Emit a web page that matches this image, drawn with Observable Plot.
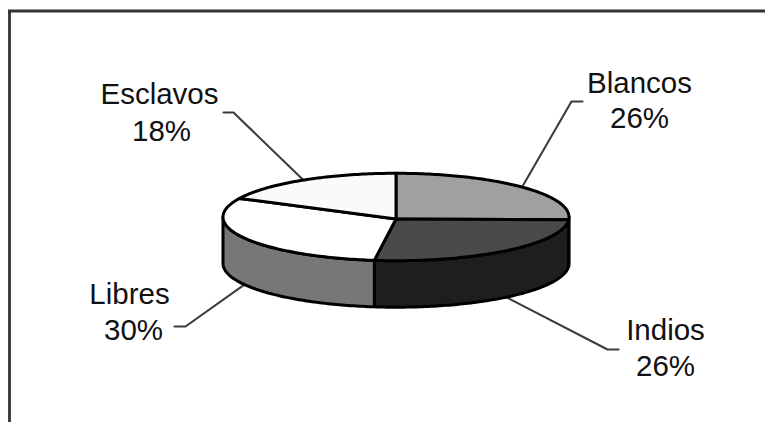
<!DOCTYPE html>
<html lang="es">
<head>
<meta charset="utf-8">
<title>Población por grupo</title>
<script src="https://cdn.jsdelivr.net/npm/d3@7"></script>
<script src="https://cdn.jsdelivr.net/npm/@observablehq/plot@0.6"></script>
<style>
  html, body { margin: 0; padding: 0; background: #fff; }
  svg { display: block; }
</style>
</head>
<body>
<div id="chart"></div>
<script>
// Population groups, clockwise from twelve o'clock
const groups = ["Blancos", "Indios", "Libres", "Esclavos"];
const shares = [26, 26, 30, 18];

// Greys for the top face and the outer wall of each slice
const topFills = ["#a0a0a0", "#4a4a4a", "#ffffff", "#fafafa"];
const wallFills = ["#1e1e1e", "#1e1e1e", "#777777", "#777777"];

// Label anchors and the elbow and tail of each leader line
const nameX = [639, 665, 129, 159];
const shareX = [639, 665, 133, 161];
const nameY = [92, 339, 303, 103];
const shareY = [127, 375, 339, 140];
const elbowX = [571, 607, 185, 233];
const tailX = [582, 618, 174, 223];
const elbowY = [101, 349, 326, 112];

// Tilted disc geometry; the hub sits a little below the ellipse centre
const width = 765, height = 422;
const cx = 395.5, cy = 216.5, hubY = 218.5, rx = 173, ry = 43.7, depth = 46.5;

const rim = (deg, drop = 0) => {
  const a = deg * Math.PI / 180;
  return {x: cx + rx * Math.sin(a), y: cy - ry * Math.cos(a) + drop};
};
const arc = (a0, a1, drop = 0) => {
  const n = Math.max(1, Math.ceil(Math.abs(a1 - a0)));
  return d3.range(n + 1).map(i => rim(a0 + (a1 - a0) * i / n, drop));
};

let cumulative = 0;
const slices = groups.map((name, i) => {
  const start = cumulative * 3.6;
  cumulative += shares[i];
  const end = cumulative * 3.6;
  return {name, share: shares[i], start, end, mid: (start + end) / 2, i};
});

const edge = {stroke: "#000", strokeWidth: 3, strokeLinejoin: "round"};

// Only the part of a slice facing the viewer shows its wall
const wallMarks = slices
  .filter(s => s.end > 90 && s.start < 270)
  .map(s => {
    const a0 = Math.max(s.start, 90), a1 = Math.min(s.end, 270);
    const outline = [...arc(a0, a1), ...arc(a1, a0, depth)];
    return Plot.line(outline, {
      x: "x", y: "y", curve: "linear-closed", fill: wallFills[s.i], ...edge
    });
  });

const topMarks = slices.map(s => {
  const outline = [{x: cx, y: hubY}, ...arc(s.start, s.end)];
  return Plot.line(outline, {
    x: "x", y: "y", curve: "linear-closed", fill: topFills[s.i], ...edge
  });
});

// Leaders start on the visible rim at each slice's middle angle
const leaderMarks = slices.map(s => {
  const onWall = s.mid > 90 && s.mid < 270;
  const path = [
    rim(s.mid, onWall ? depth : 0),
    {x: elbowX[s.i], y: elbowY[s.i]},
    {x: tailX[s.i], y: elbowY[s.i]}
  ];
  return Plot.line(path, {x: "x", y: "y", stroke: "#3c3c3c", strokeWidth: 2.1});
});

const textFont = {
  fontFamily: "'Liberation Sans', Arial, sans-serif",
  fontSize: 29.5,
  fill: "#111",
  lineAnchor: "bottom",
  textAnchor: "middle"
};

const chart = Plot.plot({
  width, height,
  margin: 0,
  style: {background: "#fff"},
  x: {domain: [0, width], range: [0, width], axis: null},
  y: {domain: [0, height], range: [0, height], axis: null},
  marks: [
    Plot.ruleX([9], {y1: 11, y2: height, stroke: "#333", strokeWidth: 2.8}),
    Plot.ruleY([10.5], {x1: 8, x2: width, stroke: "#333", strokeWidth: 2.8}),
    ...leaderMarks,
    ...wallMarks,
    ...topMarks,
    Plot.text(slices, {
      x: s => nameX[s.i], y: s => nameY[s.i], text: "name", ...textFont
    }),
    Plot.text(slices, {
      x: s => shareX[s.i], y: s => shareY[s.i], text: s => `${s.share}%`, ...textFont
    })
  ]
});

document.getElementById("chart").append(chart);
</script>
</body>
</html>
